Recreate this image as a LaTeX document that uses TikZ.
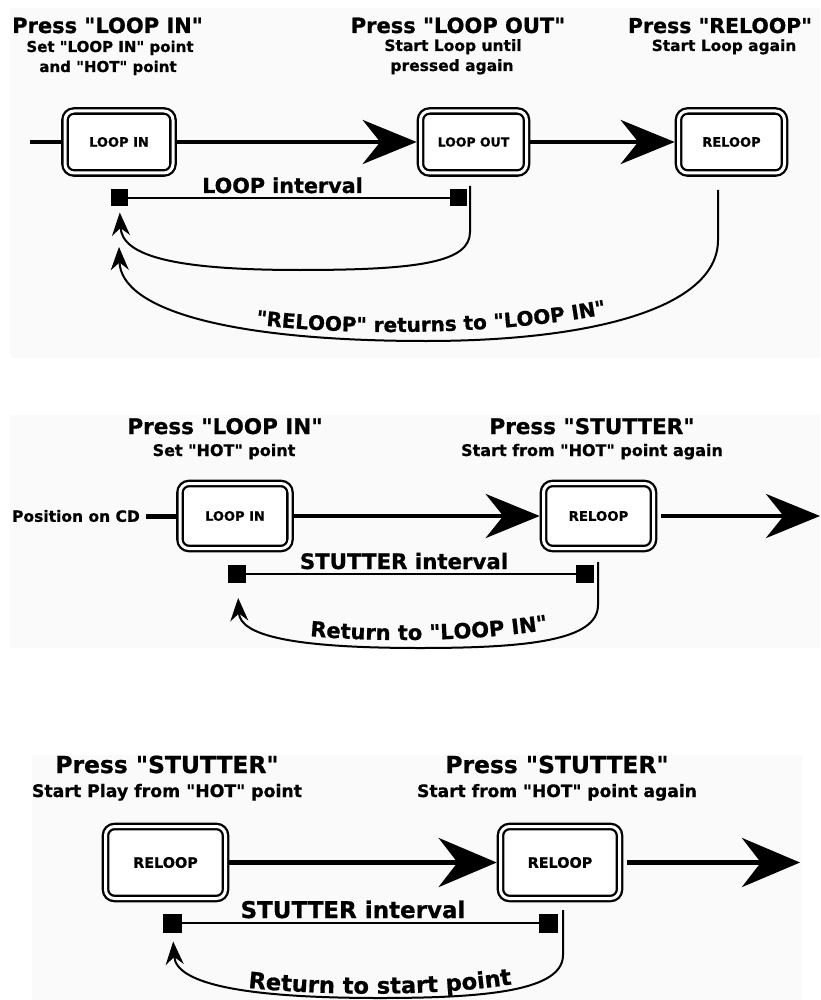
\documentclass[tikz,border=0pt]{standalone}
\usepackage{fontspec}
\setmainfont{DejaVu Sans}[Ligatures=TeXOff, BoldFeatures={FakeBold=0.8}]
\usetikzlibrary{arrows.meta,decorations.text}
\definecolor{panelbg}{RGB}{250,250,250}
\newcommand{\myfs}[1]{\fontsize{#1}{#1}\selectfont\bfseries}
\begin{document}
\begin{tikzpicture}[x=1pt,y=-1pt,
  box/.style={draw, double=white, double distance=3pt, line width=2.3pt, rounded corners=9pt, outer sep=3.8pt, inner sep=0pt, fill=white},
  lbl/.style={anchor=base, inner sep=0pt},
  flow/.style={line width=4.8pt, -{Stealth[length=54pt,width=44pt]}},
  bigflow/.style={line width=5.2pt, -{Stealth[length=58pt,width=49pt]}},
  ret/.style={line width=2pt, -{Stealth[length=23pt,width=18pt]}},
  sqr/.style={fill=black, minimum size=#1, inner sep=0pt, outer sep=0pt},
  ival/.style={line width=1.8pt}
]
\useasboundingbox (0,0) rectangle (820,1000);
% panel backgrounds
\fill[panelbg] (10,8) rectangle (820,358);
\fill[panelbg] (10,415) rectangle (820,648);
\fill[panelbg] (32,755) rectangle (802,1000);

% ---------------- Panel 1 ----------------
\node[lbl, font=\myfs{21}] (t1) at (107.5,33) {Press "LOOP IN"};
\node[lbl, font=\myfs{15}] (s1a) at (110,52) {Set "LOOP IN" point};
\node[lbl, font=\myfs{15}] (s1b) at (108,72) {and "HOT" point};
\node[lbl, font=\myfs{21}] (t2) at (458,33) {Press "LOOP OUT"};
\node[lbl, font=\myfs{15.5}] (s2a) at (453,51) {Start Loop until};
\node[lbl, font=\myfs{15.5}] (s2b) at (452,71) {pressed again};
\node[lbl, font=\myfs{20.5}] (t3) at (720,33) {Press "RELOOP"};
\node[lbl, font=\myfs{15.4}] (s3) at (724,51) {Start Loop again};

\node[box, minimum width=108pt, minimum height=62pt, font=\myfs{13}] (b1) at (119,142) {LOOP IN};
\node[box, minimum width=106pt, minimum height=62pt, font=\myfs{12.5}] (b2) at (473.5,142) {LOOP OUT};
\node[box, minimum width=106pt, minimum height=62pt, font=\myfs{13}] (b3) at (731.5,142) {RELOOP};
\coordinate (p1s) at (30,142);
\draw[line width=4.8pt] (p1s) -- (b1);
\draw[flow] (b1) -- (b2);
\draw[flow] (b2) -- (b3);

\node[sqr=17pt] (q1) at (119,198) {};
\node[sqr=17pt] (q2) at (458,198) {};
\draw[ival] (q1) -- (q2);
\node[lbl, font=\myfs{20.7}] (li) at (282.5,193) {LOOP interval};

\coordinate (r1) at (470,186);
\draw[ret, shorten >=6pt] (r1) -- (470,232) .. controls (470,262) and (420,270) .. (300,270) .. controls (170,270) and (122,255) .. (q1);
\coordinate (r2) at (718,190);
\coordinate (a2) at (119,247);
\draw[ret] (r2) -- (718,240) .. controls (718,308) and (592,341) .. (426,341) .. controls (230,341) and (121,310) .. (a2);
\path[decorate, decoration={text along path, text align=center,
  text={|\myfs{20}|"RELOOP" returns to "LOOP IN"}}]
  (246,323) .. controls (330,336) and (500,337) .. (616,312);

% ---------------- Panel 2 ----------------
\node[lbl, font=\myfs{21.5}] (t4) at (225,434) {Press "LOOP IN"};
\node[lbl, font=\myfs{16}] (s4) at (224,456) {Set "HOT" point};
\node[lbl, font=\myfs{21.5}] (t5) at (592,434) {Press "STUTTER"};
\node[lbl, font=\myfs{16}] (s5) at (592,456) {Start from "HOT" point again};
\node[anchor=east, inner sep=0pt, font=\myfs{15.5}] (pos) at (140,516) {Position on CD};

\node[box, minimum width=110pt, minimum height=65pt, font=\myfs{13}] (c1) at (235,516) {LOOP IN};
\node[box, minimum width=110pt, minimum height=65pt, font=\myfs{13.3}] (c2) at (598.5,516) {RELOOP};
\coordinate (e2) at (820,516);
\draw[line width=5pt, shorten <=6pt] (pos) -- (c1);
\draw[flow] (c1) -- (c2);
\draw[flow, shorten <=4pt] (c2) -- (e2);

\node[sqr=18pt] (q3) at (237,574) {};
\node[sqr=18pt] (q4) at (584.5,574) {};
\draw[ival] (q3) -- (q4);
\node[lbl, font=\myfs{21.3}] (si2) at (404,569) {STUTTER interval};
\coordinate (r3) at (598,562);
\draw[ret, shorten >=15pt] (r3) -- (598,605) .. controls (598,640) and (530,648) .. (420,648) .. controls (290,648) and (240,635) .. (q3);
\path[decorate, decoration={text along path, text align=center,
  text={|\myfs{21}|Return to "LOOP IN"}}]
  (300,635) .. controls (370,643) and (480,642) .. (558,628);

% ---------------- Panel 3 ----------------
\node[lbl, font=\myfs{23.4}] (t6) at (167,773) {Press "STUTTER"};
\node[lbl, font=\myfs{17.3}] (s6) at (167,797) {Start Play from "HOT" point};
\node[lbl, font=\myfs{23.4}] (t7) at (557,773) {Press "STUTTER"};
\node[lbl, font=\myfs{17.1}] (s7) at (557,797) {Start from "HOT" point again};

\node[box, minimum width=120pt, minimum height=72pt, font=\myfs{14.4}] (d1) at (165.5,862.5) {RELOOP};
\node[box, minimum width=119pt, minimum height=72pt, font=\myfs{14.4}] (d2) at (560,862.5) {RELOOP};
\coordinate (e3) at (800,862.5);
\draw[bigflow] (d1) -- (d2);
\draw[bigflow, shorten <=4pt] (d2) -- (e3);

\node[sqr=19pt] (q5) at (172,923) {};
\node[sqr=19pt] (q6) at (548.5,923) {};
\draw[ival] (q5) -- (q6);
\node[lbl, font=\myfs{23}] (si3) at (353,918) {STUTTER interval};
\coordinate (r4) at (563,910);
\draw[ret, shorten >=9pt] (r4) -- (563,955) .. controls (563,990) and (490,998) .. (380,998) .. controls (250,998) and (176,985) .. (q5);
\path[decorate, decoration={text along path, text align=center,
  text={|\myfs{22.6}|Return to start point}}]
  (240,987) .. controls (320,996) and (440,997) .. (520,983);
\end{tikzpicture}
\end{document}
